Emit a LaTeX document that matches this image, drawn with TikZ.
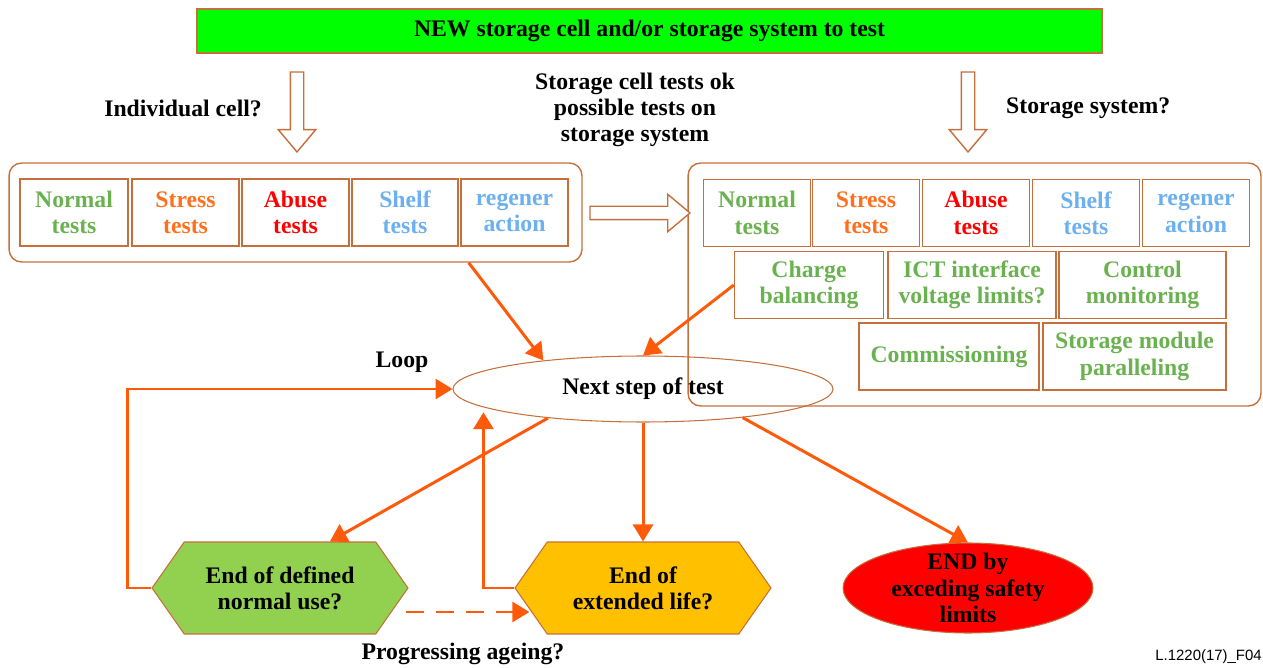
\documentclass[tikz,border=0pt]{standalone}
\usepackage{fontspec}
\setmainfont{Liberation Serif}
\setsansfont{Liberation Sans}
\usetikzlibrary{positioning}
\usetikzlibrary{calc,shapes.geometric,shapes.arrows,shapes.symbols,arrows.meta}
\definecolor{boxline}{RGB}{197,112,60}
\definecolor{flowred}{RGB}{255,90,10}
\definecolor{txtgreen}{RGB}{106,178,80}
\definecolor{txtorange}{RGB}{255,112,30}
\definecolor{txtblue}{RGB}{108,176,240}
\definecolor{newgreen}{RGB}{0,255,0}
\definecolor{usegreen}{RGB}{146,208,80}
\definecolor{lifeyellow}{RGB}{255,192,0}
\tikzset{
  testbox/.style={draw=boxline,line width=0.8pt,minimum height=1.34cm,align=center,inner sep=1pt},
  group/.style={draw=boxline,line width=0.8pt,rounded corners=0.25cm,minimum width=11.46cm},
  hollow/.style={single arrow,draw=boxline,fill=white,line width=0.8pt,inner sep=0.12cm,single arrow head extend=0.24cm,single arrow tip angle=80},
  flow/.style={draw=flowred,line width=1.7pt,-{Triangle[length=0.34cm,width=0.4cm]}},
  hexa/.style={signal,signal to=east and west,signal pointer angle=110,draw=boxline,line width=0.6pt,minimum width=5.12cm,minimum height=1.84cm,align=center}
}
\begin{document}
\begin{tikzpicture}[x=0.02cm,y=-0.02cm,every node/.style={font=\fontsize{13.5}{15}\selectfont\bfseries}]
\useasboundingbox (0,0) rectangle (1263,668);
\path
(649.5,31) node [draw=boxline,fill=newgreen,line width=0.8pt,minimum width=18.1cm,minimum height=0.88cm](new) {NEW storage cell and/or storage system to test}
(297,108) node [hollow,shape border rotate=270,minimum height=1.6cm](cellarrow) {}
(968,108) node [hollow,shape border rotate=270,minimum height=1.6cm](sysarrow) {}
(268,108) node [left](celltxt) {Individual cell?}
(1000,108) node [right](systxt) {Storage system?}
(635,110) node [align=center](oktxt) {Storage cell tests ok\\possible tests on\\storage system}
(295.5,212.5) node [group,minimum height=1.98cm](cellgroup) {}
(974.5,284.5) node [group,minimum height=4.86cm](sysgroup) {}
(636,213) node [hollow,minimum height=2cm](okarrow) {};
\path
(74,212.5) node [testbox,minimum width=2.16cm,text=txtgreen](cnormal) {Normal\\tests}
(185.5,212.5) node [testbox,minimum width=2.14cm,text=txtorange](cstress) {Stress\\tests}
(295.5,212.5) node [testbox,minimum width=2.14cm,text=red](cabuse) {Abuse\\tests}
(405,212.5) node [testbox,minimum width=2.12cm,text=txtblue](cshelf) {Shelf\\tests}
(514.5,212.5) node [testbox,minimum width=2.14cm,text=txtblue](cregen) {regener\\action};
\path
(757,213) node [testbox,minimum width=2.14cm,text=txtgreen](snormal) {Normal\\tests}
(866,213) node [testbox,minimum width=2.14cm,text=txtorange](sstress) {Stress\\tests}
(976,213) node [testbox,minimum width=2.14cm,text=red](sabuse) {Abuse\\tests}
(1086,213) node [testbox,minimum width=2.14cm,text=txtblue](sshelf) {Shelf\\tests}
(1196,213) node [testbox,minimum width=2.14cm,text=txtblue](sregen) {regener\\action}
(809,285) node [testbox,minimum width=2.98cm,text=txtgreen](charge) {Charge\\balancing}
(972,285) node [testbox,minimum width=3.36cm,text=txtgreen](ict) {ICT interface\\voltage limits?}
(1142.5,285) node [testbox,minimum width=3.34cm,text=txtgreen](control) {Control\\monitoring}
(949,356.5) node [testbox,minimum width=3.6cm,text=txtgreen](commis) {Commissioning}
(1134.5,356.5) node [testbox,minimum width=3.66cm,text=txtgreen](module) {Storage module\\paralleling};
\path
(643,389) node [ellipse,draw=boxline,line width=0.6pt,minimum width=7.6cm,minimum height=1.32cm](next) {Next step of test}
(402,362) node (looptxt) {Loop}
(280,588) node [hexa,fill=usegreen](green) {End of defined\\normal use?}
(643,588) node [hexa,fill=lifeyellow](yellow) {End of\\extended life?}
(968,588) node [ellipse,draw=boxline,line width=0.6pt,fill=red,minimum width=5cm,minimum height=1.8cm,label={[align=center]center:END by\\exceding safety\\limits}](red) {}
(463,654) node (agetxt) {Progressing ageing?}
(1262,657) node [left,inner sep=0pt,font=\fontsize{8.5}{10}\selectfont\sffamily](fig) {L.1220(17)\_F04};
\draw [flow]($(cellgroup.south east)+(-114,0)$) -- (next.164);
\draw [flow](charge.west) -- (next.north);
\draw [flow](green.west) -- ++(-24,0) |- (next.west);
\draw [flow](yellow.west) -| ($(next.186)+(4,6)$);
\draw [flow](next.197) -- (green.43);
\draw [flow](next.south) -- (yellow.north);
\draw [flow](next.-16) -- (red.north);
\draw [flow,dash pattern=on 0.36cm off 0.24cm]($(green.east)+(-3,24)$) -- ($(yellow.west)+(15,24)$);
\end{tikzpicture}
\end{document}
